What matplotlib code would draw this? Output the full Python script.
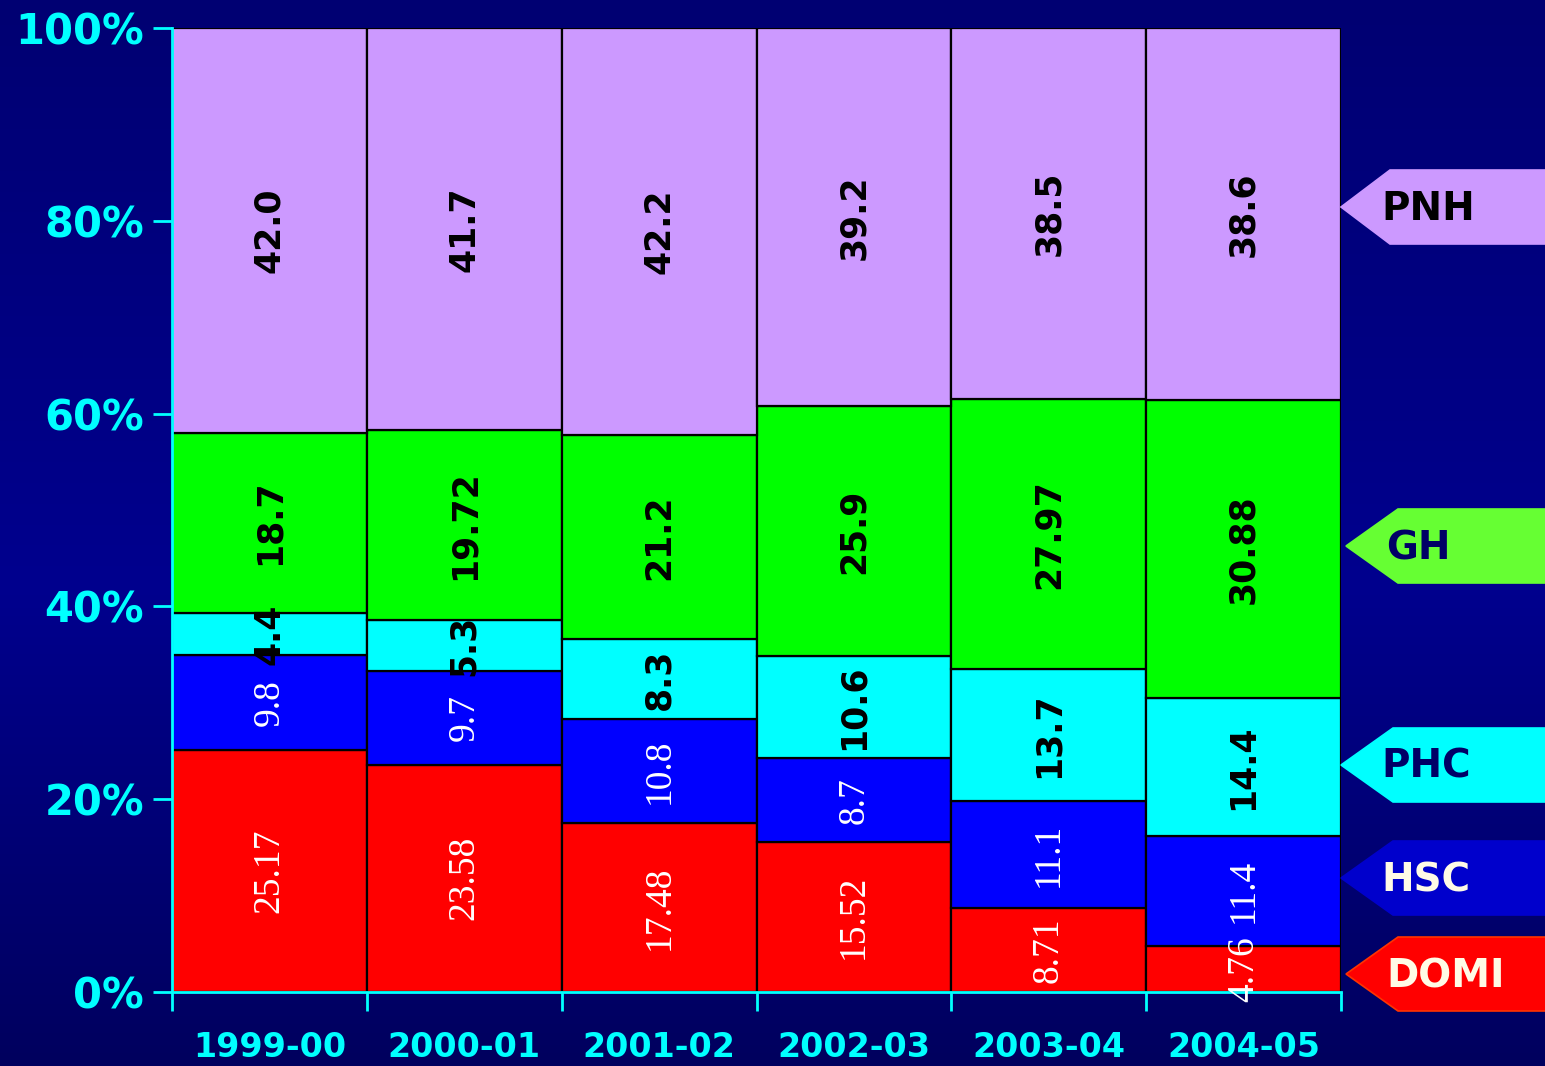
import numpy as np
import matplotlib
matplotlib.use('Agg')
import matplotlib.pyplot as plt
from matplotlib.colors import LinearSegmentedColormap
from matplotlib.patches import Polygon

# data (shares in %, bottom to top)
years = ['1999-00', '2000-01', '2001-02', '2002-03', '2003-04', '2004-05']
series = ['DOMI', 'HSC', 'PHC', 'GH', 'PNH']
domi = [25.17, 23.58, 17.48, 15.52, 8.71, 4.76]
hsc = [9.8, 9.7, 10.8, 8.7, 11.1, 11.4]
phc = [4.4, 5.3, 8.3, 10.6, 13.7, 14.4]
gh = [18.7, 19.72, 21.2, 25.9, 27.97, 30.88]
pnh = [42.0, 41.7, 42.2, 39.2, 38.5, 38.6]
label_text = {
    'DOMI': ['25.17', '23.58', '17.48', '15.52', '8.71', '4.76'],
    'HSC': ['9.8', '9.7', '10.8', '8.7', '11.1', '11.4'],
    'PHC': ['4.4', '5.3', '8.3', '10.6', '13.7', '14.4'],
    'GH': ['18.7', '19.72', '21.2', '25.9', '27.97', '30.88'],
    'PNH': ['42.0', '41.7', '42.2', '39.2', '38.5', '38.6'],
}

bar_colors = {'DOMI': '#FF0000', 'HSC': '#0000FF', 'PHC': '#00FFFF',
              'GH': '#00FF00', 'PNH': '#CC99FF'}

fig = plt.figure(figsize=(15.45, 10.66), dpi=100)

# background gradient
bg = fig.add_axes([0, 0, 1, 1], zorder=-10)
cmap = LinearSegmentedColormap.from_list('bg', [(0, '#000072'), (0.55, '#00008E'), (1, '#00005E')])
grad = np.linspace(0, 1, 256).reshape(-1, 1)
bg.imshow(grad, aspect='auto', cmap=cmap, extent=[0, 1, 0, 1])
bg.axis('off')

W, H = 1545, 1066
ax = fig.add_axes([172 / W, 1 - 992 / H, (1341 - 172) / W, (992 - 28) / H])
ax.patch.set_alpha(0)

vals = np.array([domi, hsc, phc, gh, pnh], dtype=float)
pct = vals / vals.sum(axis=0) * 100
x = np.arange(len(years))
bottom = np.zeros(len(years))
for i, s in enumerate(series):
    ax.bar(x, pct[i], bottom=bottom, width=1.0, color=bar_colors[s],
           edgecolor='black', linewidth=1.6, align='edge', zorder=2)
    for j in range(len(years)):
        yc = bottom[j] + pct[i][j] / 2
        if s in ('DOMI', 'HSC'):
            ax.text(x[j] + 0.5, yc, label_text[s][j], rotation=90, ha='center', va='center',
                    color='white', fontsize=27, family='Liberation Serif', zorder=5)
        else:
            ax.text(x[j] + 0.5, yc, label_text[s][j], rotation=90, ha='center', va='center',
                    color='black', fontsize=25, fontweight='bold', family='DejaVu Sans', zorder=5)
    bottom += pct[i]

ax.set_xlim(0, len(years))
ax.set_ylim(0, 100)
ax.set_yticks([0, 20, 40, 60, 80, 100])
ax.set_yticklabels(['0%', '20%', '40%', '60%', '80%', '100%'])
ax.set_xticks(np.arange(len(years) + 1))
ax.set_xticklabels([])
ax.set_xticks(x + 0.5, minor=True)
ax.set_xticklabels(years, minor=True)
ax.tick_params(axis='y', colors='#00FFFF', length=14, width=2, labelsize=30, pad=6)
ax.tick_params(axis='x', which='major', colors='#00FFFF', length=14, width=2, direction='out')
ax.tick_params(axis='x', which='minor', length=0, labelsize=24, labelcolor='#00FFFF', pad=28)
for lab in ax.get_yticklabels() + ax.get_xticklabels(minor=True):
    lab.set_fontweight('bold')
for sp in ['top', 'right']:
    ax.spines[sp].set_visible(False)
for sp in ['left', 'bottom']:
    ax.spines[sp].set_color('#00FFFF')
    ax.spines[sp].set_linewidth(2)
    ax.spines[sp].set_zorder(3)

# arrow-shaped series tags on the right (pixel layout)
tags = [
    ('PNH', 1341, 1390, 170, 244, '#CC99FF', '#CC99FF', 'black'),
    ('GH', 1346, 1398, 509, 583, '#66FF33', '#66FF33', '#000066'),
    ('PHC', 1341, 1393, 728, 802, '#00FFFF', '#00FFFF', '#000066'),
    ('HSC', 1341, 1393, 841, 915, '#0000CC', '#0000CC', '#FFFBE6'),
    ('DOMI', 1346, 1398, 937, 1011, '#FF0000', '#FF3300', '#FFFBE6'),
]
for name, tip, x0, y0, y1, fc, ec, tc in tags:
    ym = (y0 + y1) / 2
    pts = [(tip, ym), (x0, y0), (W + 5, y0), (W + 5, y1), (x0, y1)]
    pts = [(px / W, 1 - py / H) for px, py in pts]
    fig.patches.append(Polygon(pts, closed=True, facecolor=fc, edgecolor=ec, linewidth=1.2,
                               transform=fig.transFigure, figure=fig))
    fig.text((tip + 40) / W, 1 - (ym + 2) / H, name, ha='left', va='center', color=tc,
             fontsize=28, fontweight='bold', family='DejaVu Sans')

fig.savefig('out.png', dpi=100, facecolor='#000080')
